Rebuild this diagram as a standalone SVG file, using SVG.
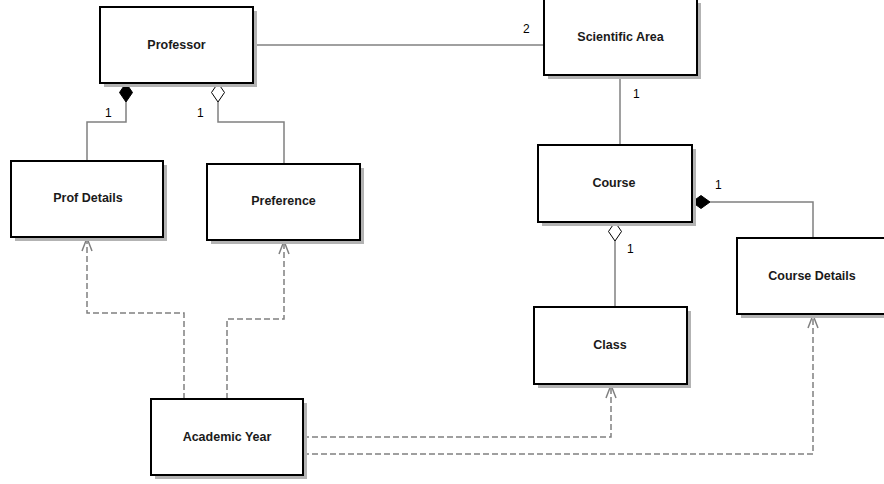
<svg xmlns="http://www.w3.org/2000/svg" width="884" height="484" viewBox="0 0 884 484">
<style>
.box{fill:#fff;stroke:#000;stroke-width:2}
.sh{fill:#b3b3b3}
.t{font-family:"Liberation Sans",Arial,sans-serif;font-size:12.5px;font-weight:bold;fill:#1a1a1a;text-anchor:middle;dominant-baseline:central}
.lbl{font-family:"Liberation Sans",Arial,sans-serif;font-size:12px;fill:#000}
.ln{fill:none;stroke:#808080;stroke-width:1.5}
.dl{fill:none;stroke:#808080;stroke-width:1.5;stroke-dasharray:6 3}
.ar{fill:none;stroke:#808080;stroke-width:1.5}
</style>
<rect width="884" height="484" fill="#fff"/>
<g id="connectors">
<line class="ln" x1="253" y1="45" x2="544" y2="45"/>
<polyline class="ln" points="126,102 126,122 87,122 87,161"/>
<path d="M126,83 L132.5,92.5 L126,102 L119.5,92.5 Z" fill="#000" stroke="#000" stroke-width="1"/>
<polyline class="ln" points="218,102 218,122 284,122 284,164"/>
<path d="M218,83 L224.5,92.5 L218,102 L211.5,92.5 Z" fill="#fff" stroke="#000" stroke-width="1"/>
<line class="ln" x1="620" y1="75" x2="620" y2="145"/>
<polyline class="ln" points="710,202 813,202 813,238"/>
<path d="M692,202 L701,195.5 L710,202 L701,208.5 Z" fill="#000" stroke="#000" stroke-width="1"/>
<line class="ln" x1="615" y1="241" x2="615" y2="307"/>
<path d="M615,222 L621.5,231.5 L615,241 L608.5,231.5 Z" fill="#fff" stroke="#000" stroke-width="1"/>
<polyline class="dl" points="184,399 184,313 87,313 87,239"/>
<path class="ar" d="M82,251 L87,238 L92,251"/>
<polyline class="dl" points="227,399 227,319 284,319 284,242"/>
<path class="ar" d="M279,254 L284,241 L289,254"/>
<polyline class="dl" points="303,437 611,437 611,386"/>
<path class="ar" d="M606,398 L611,385 L616,398"/>
<polyline class="dl" points="303,454 813,454 813,316"/>
<path class="ar" d="M808,328 L813,315 L818,328"/>
<text class="lbl" x="105" y="117">1</text>
<text class="lbl" x="197" y="117">1</text>
<text class="lbl" x="523" y="33">2</text>
<text class="lbl" x="633" y="98">1</text>
<text class="lbl" x="715" y="189">1</text>
<text class="lbl" x="627" y="253">1</text>
</g>
<g id="professor"><rect class="sh" x="104" y="11" width="153" height="76"/><rect class="box" x="100" y="7" width="153" height="76"/><text class="t" x="176.5" y="45">Professor</text></g>
<g id="scientific-area"><rect class="sh" x="548" y="3" width="153" height="76"/><rect class="box" x="544" y="-1" width="153" height="76"/><text class="t" x="620.5" y="37">Scientific Area</text></g>
<g id="prof-details"><rect class="sh" x="15" y="165" width="152" height="76"/><rect class="box" x="11" y="161" width="152" height="76"/><text class="t" x="88" y="198">Prof Details</text></g>
<g id="preference"><rect class="sh" x="211" y="168" width="153" height="76"/><rect class="box" x="207" y="164" width="153" height="76"/><text class="t" x="283.5" y="201">Preference</text></g>
<g id="course"><rect class="sh" x="542" y="149" width="154" height="77"/><rect class="box" x="538" y="145" width="154" height="77"/><text class="t" x="614" y="183">Course</text></g>
<g id="course-details"><rect class="sh" x="741" y="242" width="152" height="76"/><rect class="box" x="737" y="238" width="152" height="76"/><text class="t" x="812" y="276">Course Details</text></g>
<g id="class"><rect class="sh" x="538" y="311" width="153" height="77"/><rect class="box" x="534" y="307" width="153" height="77"/><text class="t" x="610" y="345">Class</text></g>
<g id="academic-year"><rect class="sh" x="155" y="403" width="152" height="76"/><rect class="box" x="151" y="399" width="152" height="76"/><text class="t" x="227" y="437">Academic Year</text></g>
</svg>
